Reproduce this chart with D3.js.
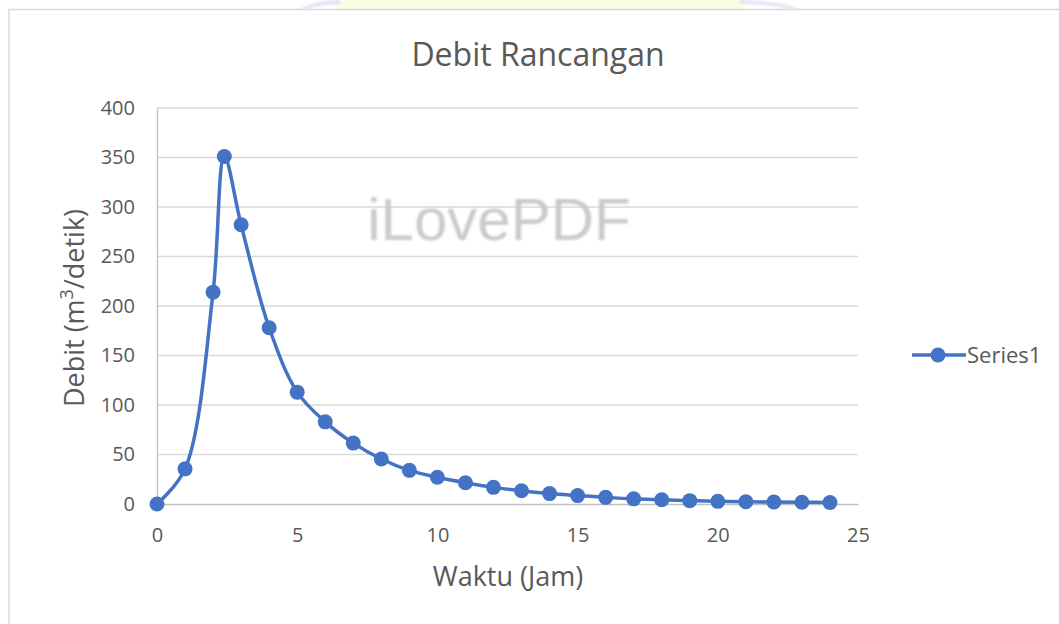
<!DOCTYPE html>
<html><head><meta charset="utf-8">
<script src="https://cdn.jsdelivr.net/npm/d3@7/dist/d3.min.js"></script>
<style>body{margin:0;background:#fff}svg{display:block}</style>
</head><body><svg id="c" width="1059" height="624"></svg>
<script>
const hours = [0,1,2,2.4,3,4,5,6,7,8,9,10,11,12,13,14,15,16,17,18,19,20,21,22,23,24];
const debit = [0,35.5,214,351,282,178,113,83,61.5,45.5,34,27,21.5,16.8,13.4,10.5,8.5,6.7,5.2,4.3,3.4,2.7,2.3,2,1.8,1.4];
const yTicks = [0,50,100,150,200,250,300,350,400];
const xTicks = [0,5,10,15,20,25];
const title = "Debit Rancangan";
const xTitle = "Waktu (Jam)";
const seriesName = "Series1";

const svg = d3.select("#c");
const color = "#4472C4";
const font = "'Open Sans', sans-serif";

// faint watermark logo at top edge
const defs = svg.append("defs");
const blur = defs.append("filter").attr("id","bl");
blur.append("feGaussianBlur").attr("stdDeviation",1.2);
svg.append("rect").attr("x",335).attr("y",0).attr("width",410).attr("height",9).attr("fill","#fcfde0").attr("filter","url(#bl)");
svg.append("path").attr("d","M300,9 Q315,0 340,0 L340,4 Q320,5 305,9 Z").attr("fill","#e2e2f4").attr("filter","url(#bl)");
svg.append("path").attr("d","M740,0 Q780,1 800,9 L790,9 Q770,4 740,4 Z").attr("fill","#e2e2f4").attr("filter","url(#bl)");

// chart border
svg.append("rect").attr("x",9).attr("y",9.5).attr("width",1070).attr("height",640)
  .attr("fill","none").attr("stroke","#d9d9d9").attr("stroke-width",1.5);

const x = d3.scaleLinear().domain([0,25]).range([157,858]);
const y = d3.scaleLinear().domain([0,400]).range([504,108]);

// gridlines
svg.append("g").selectAll("line").data(yTicks.filter(d=>d>0)).join("line")
  .attr("x1",x(0)).attr("x2",x(25)).attr("y1",d=>y(d)).attr("y2",d=>y(d))
  .attr("stroke","#d9d9d9").attr("stroke-width",1.3);

// axes
const yAxis = svg.append("g").attr("transform",`translate(${x(0)},0)`)
  .call(d3.axisLeft(y).tickValues(yTicks).tickSize(0).tickPadding(22));
yAxis.select(".domain").attr("stroke","#bfbfbf").attr("stroke-width",1.3);
yAxis.selectAll("text").attr("font-family",font).attr("font-size",20).attr("fill","#595959");

const xAxis = svg.append("g").attr("transform",`translate(0,${y(0)})`)
  .call(d3.axisBottom(x).tickValues(xTicks).tickSize(0).tickPadding(24));
xAxis.select(".domain").attr("stroke","#bfbfbf").attr("stroke-width",1.3);
xAxis.selectAll("text").attr("font-family",font).attr("font-size",20).attr("fill","#595959");

// watermark text
svg.append("text").attr("x",499).attr("y",240).attr("text-anchor","middle")
  .attr("font-family","'Liberation Sans', Arial, sans-serif").attr("font-size",60)
  .attr("fill","#cbcbcb").attr("filter","url(#bl)").text("iLovePDF");

// line
const data = hours.map((h,i)=>({h, v: debit[i]}));
svg.append("path").datum(data)
  .attr("d", d3.line().x(d=>x(d.h)).y(d=>y(d.v)).curve(d3.curveCatmullRom.alpha(0.5)))
  .attr("fill","none").attr("stroke",color).attr("stroke-width",3.5);
svg.append("g").selectAll("circle").data(data).join("circle")
  .attr("cx",d=>x(d.h)).attr("cy",d=>y(d.v)).attr("r",7.5).attr("fill",color);

// titles
svg.append("text").attr("x",538).attr("y",66).attr("text-anchor","middle")
  .attr("font-family",font).attr("font-size",32).attr("fill","#595959").text(title);
svg.append("text").attr("x",508).attr("y",586).attr("text-anchor","middle")
  .attr("font-family",font).attr("font-size",27).attr("fill","#595959").text(xTitle);
const yt = svg.append("text").attr("transform","translate(84,308) rotate(-90)").attr("text-anchor","middle")
  .attr("font-family",font).attr("font-size",27).attr("fill","#595959");
yt.append("tspan").text("Debit (m");
yt.append("tspan").attr("font-size",18).attr("dy",-11).text("3");
yt.append("tspan").attr("dy",11).text("/detik)");

// legend
svg.append("line").attr("x1",912).attr("x2",966).attr("y1",355).attr("y2",355).attr("stroke",color).attr("stroke-width",3.5);
svg.append("circle").attr("cx",938).attr("cy",355).attr("r",7.5).attr("fill",color);
svg.append("text").attr("x",967).attr("y",363).attr("font-family",font).attr("font-size",22).attr("fill","#595959").text(seriesName);
</script></body></html>
